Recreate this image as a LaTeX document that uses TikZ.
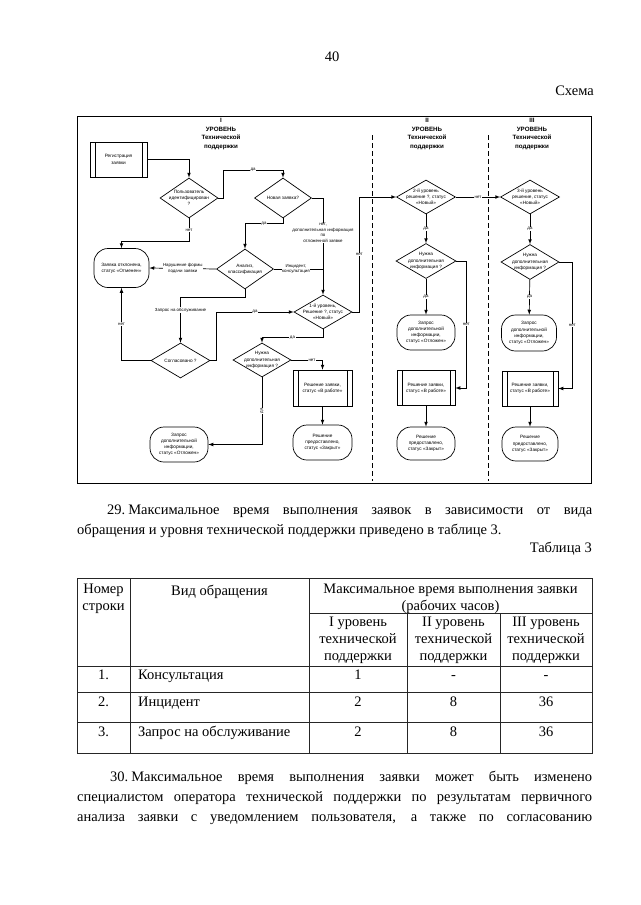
\documentclass[tikz,border=0pt]{standalone}
\usepackage{fontspec}
\setmainfont{Liberation Serif}
\newfontfamily\schemefont{Liberation Sans}
\usetikzlibrary{arrows, shapes, positioning}

\tikzset{
  page/.style={font=\fontsize{14.5}{17}\selectfont, inner sep=0pt},
  cell/.style={page, anchor=base, align=center},
  level/.style={align=center, font=\schemefont\bfseries\fontsize{6.2}{8.5}\selectfont},
  box/.style={draw, line width=0.7pt, minimum width=58pt, minimum height=35pt, inner sep=1pt,
    align=center, font=\schemefont\fontsize{4.7}{6.2}\selectfont},
  proc/.style={box, path picture={
      \draw[line width=0.6pt] ([xshift=5pt]path picture bounding box.north west) -- ([xshift=5pt]path picture bounding box.south west);
      \draw[line width=0.6pt] ([xshift=-5pt]path picture bounding box.north east) -- ([xshift=-5pt]path picture bounding box.south east);}},
  term/.style={box, rounded corners=14pt},
  decision/.style={draw, line width=0.7pt, diamond, minimum width=58pt, minimum height=35pt, inner sep=0pt},
  dtext/.style={align=center, inner sep=0pt, font=\schemefont\fontsize{4.7}{6.2}\selectfont},
  lbl/.style={fill=white, inner sep=0.5pt, align=center, font=\schemefont\fontsize{4.4}{5.4}\selectfont},
  flow/.style={->, >=latex, line width=0.7pt},
  rule/.style={line width=0.8pt, draw=black!85}
}

\begin{document}
\begin{tikzpicture}[x=1pt, y=-1pt]
  \fill[white] (0,0) rectangle (640,905);
  \useasboundingbox (0,0) rectangle (640,905);

  % page head
  \node[page] (pgno) at (332,57) {40};
  \node[page, anchor=base east] (scheme) at (594,95.5) {Схема};

  % frame of the scheme and the level columns
  \draw[line width=0.9pt] (77,116) rectangle (591,483);
  \draw[line width=0.8pt, dash pattern=on 5pt off 3pt] (372,135) -- (372,481);
  \draw[line width=0.8pt, dash pattern=on 5pt off 3pt] (488,135) -- (488,481);
  \node[level] (lvl1) at (221,134) {I\\УРОВЕНЬ\\Технической\\поддержки};
  \node[level] (lvl2) at (427,134) {II\\УРОВЕНЬ\\Технической\\поддержки};
  \node[level] (lvl3) at (532,134) {III\\УРОВЕНЬ\\Технической\\поддержки};

  % I level
  \node[proc, minimum width=57pt] (reg) at (118.5,159.5) {Регистрация\\заявки};
  \node[decision, minimum height=40pt, label={[dtext]center:{Пользователь\\идентифицирован\\?}}] (ident) at (189,198) {};
  \node[decision, minimum width=57pt, minimum height=40pt, label={[dtext]center:{Новая заявка?}}] (newq) at (283,198) {};
  \node[term, minimum width=55pt, minimum height=39pt] (reject) at (121.5,268) {Заявка отклонена,\\статус «Отменен»};
  \node[decision, minimum width=57pt, minimum height=40pt, label={[dtext]center:{Анализ,\\классификация}}] (analysis) at (245,269) {};
  \node[decision, minimum width=59pt, label={[dtext]center:{Согласовано ?}}] (agreed) at (180.5,360.5) {};
  \node[decision, minimum height=34pt, label={[dtext]center:{1-й уровень,\\Решение ?, статус\\«Новый»}}] (l1dec) at (323,312) {};
  \node[decision, minimum height=34pt, label={[dtext]center:{Нужна\\дополнительная\\информация ?}}] (l1info) at (262,360) {};
  \node[term] (l1wait) at (179,444.5) {Запрос\\дополнительной\\информации,\\статус «Отложен»};
  \node[proc, minimum width=59pt, minimum height=36pt] (l1work) at (322.5,388) {Решение заявки,\\статус «В работе»};
  \node[term, minimum width=59pt] (l1done) at (322.5,442.5) {Решение\\предоставлено,\\статус «Закрыт»};

  % II level
  \node[decision, minimum width=59pt, minimum height=34pt, label={[dtext]center:{2-й уровень\\решение ?, статус\\«Новый»}}] (l2dec) at (426,197) {};
  \node[decision, minimum width=60pt, label={[dtext]center:{Нужна\\дополнительная\\информация ?}}] (l2info) at (426,261) {};
  \node[term] (l2wait) at (426,332.5) {Запрос\\дополнительной\\информации,\\статус «Отложен»};
  \node[proc] (l2work) at (426,388) {Решение заявки,\\статус «В работе»};
  \node[term, minimum height=33pt] (l2done) at (426,443.5) {Решение\\предоставлено,\\статус «Закрыт»};

  % III level
  \node[decision, minimum width=59pt, minimum height=34pt, label={[dtext]center:{3-й уровень\\решение, статус\\«Новый»}}] (l3dec) at (530,197) {};
  \node[decision, label={[dtext]center:{Нужна\\дополнительная\\информация ?}}] (l3info) at (530,262) {};
  \node[term, minimum width=55pt, minimum height=36pt] (l3wait) at (529,333) {Запрос\\дополнительной\\информации,\\статус «Отложен»};
  \node[proc, minimum width=56pt] (l3work) at (530,388.5) {Решение заявки,\\статус «В работе»};
  \node[term, minimum width=56pt, minimum height=34pt] (l3done) at (530,444) {Решение\\предоставлено,\\статус «Закрыт»};

  % connectors, I level
  \draw[flow] (reg.east) -| (ident.north);
  \draw[flow] (ident.east) -- ++(5,0) -- ++(0,-28) -| node[lbl, pos=0.25] {да} (newq.north);
  \draw[flow] (ident.south) -- node[lbl] {нет} ++(0,23) -| (reject.north);
  \draw[flow] (newq.south) -- ++(0,5) -| node[lbl, pos=0.25] {да} (analysis.north);
  \draw[flow] (analysis.west) -- node[lbl] {Нарушение формы\\подачи заявки} (reject.east);
  \draw[flow] (newq.east) -| node[lbl, pos=0.68] {нет,\\дополнительная информация\\по\\отложенной заявке} (l1dec.north);
  \draw[line width=0.7pt] (analysis.east) -- node[lbl, pos=0.45] {Инцидент,\\консультация} (analysis.east -| l1dec.north);
  \draw[flow] (analysis.south) -- ++(0,8) -| node[lbl, pos=0.64] {Запрос на обслуживание} (agreed.north);
  \draw[flow] (agreed.east) -- ++(6,0) |- node[lbl, pos=0.75] {да} (l1dec.west);
  \draw[flow] (agreed.west) -| node[lbl, pos=0.75] {нет} (reject.south);
  \draw[flow] (l1dec.east) -- ++(7,0) |- node[lbl, pos=0.25] {нет} (l2dec.west);
  \draw[flow] (l1dec.south) -- ++(0,8) -| node[lbl, pos=0.25] {да} (l1info.north);
  \draw[flow] (l1info.east) -| node[lbl, pos=0.33] {нет} (l1work.north);
  \draw[flow] (l1info.south) |- node[lbl, pos=0.25, rotate=90] {да} (l1wait.east);
  \draw[flow] (l1work) -- (l1done);

  % connectors, II level
  \draw[flow] (l2dec.east) -- node[lbl] {нет} (l3dec.west);
  \draw[flow] (l2dec) -- node[lbl] {да} (l2info);
  \draw[flow] (l2info) -- node[lbl] {да} (l2wait);
  \draw[flow] (l2info.east) -- ++(10,0) |- node[lbl, pos=0.25] {нет} (l2work.east);
  \draw[flow] (l2work) -- (l2done);

  % connectors, III level
  \draw[flow] (l3dec) -- node[lbl] {да} (l3info);
  \draw[flow] (l3info) -- node[lbl] {да} (l3wait);
  \draw[flow] (l3info.east) -- ++(13,0) |- node[lbl, pos=0.25] {нет} (l3work.east);
  \draw[flow] (l3work) -- (l3done);

  % item 29
  \node[page, anchor=base west] (p29a) at (107,514.5) {\makebox[485pt][s]{29.\hspace{3pt}Максимальное время выполнения заявок в зависимости от вида}};
  \node[page, anchor=base west] (p29b) at (77,534.5) {обращения и уровня технической поддержки приведено в таблице 3.};
  \node[page, anchor=base east] (tab3) at (592,552.5) {Таблица 3};

  % table 3 (base of a cell is the base of its last line)
  \draw[rule] (77,578) rectangle (592,753);
  \draw[rule] (130,578) -- (130,753);
  \draw[rule] (309,578) -- (309,753);
  \draw[rule] (407,613) -- (407,753);
  \draw[rule] (500,613) -- (500,753);
  \draw[rule] (309,613) -- (592,613);
  \draw[rule] (77,666) -- (592,666);
  \draw[rule] (77,692) -- (592,692);
  \draw[rule] (77,722) -- (592,722);
  \node[cell] (hnum) at (103.5,610.5) {Номер\\строки};
  \node[cell] (hkind) at (219.5,595.5) {Вид обращения};
  \node[cell] (htime) at (450.5,610.5) {Максимальное время выполнения заявки\\(рабочих часов)};
  \node[cell] (hl1) at (358,660.5) {I уровень\\технической\\поддержки};
  \node[cell] (hl2) at (453.5,660.5) {II уровень\\технической\\поддержки};
  \node[cell] (hl3) at (546,660.5) {III уровень\\технической\\поддержки};
  \foreach \yb/\kind/\ta/\tb/\tc [count=\r] in {679.5/Консультация/1/-/-, 706.5/Инцидент/2/8/36, 736.5/Запрос на обслуживание/2/8/36} {
    \node[cell] (num\r) at (103.5,\yb) {\r.};
    \node[page, anchor=base west] (kind\r) at (138,\yb) {\kind};
    \node[cell] (ta\r) at (358,\yb) {\ta};
    \node[cell] (tb\r) at (453.5,\yb) {\tb};
    \node[cell] (tc\r) at (546,\yb) {\tc};
  }

  % item 30
  \node[page, anchor=base west] (p30a) at (110,781) {\makebox[482pt][s]{30.\hspace{3pt}Максимальное время выполнения заявки может быть изменено}};
  \node[page, anchor=base west] (p30b) at (77,801) {\makebox[515pt][s]{специалистом оператора технической поддержки по результатам первичного}};
  \node[page, anchor=base west] (p30c) at (77,821) {\makebox[515pt][s]{анализа заявки с уведомлением пользователя, а также по согласованию}};
\end{tikzpicture}
\end{document}
